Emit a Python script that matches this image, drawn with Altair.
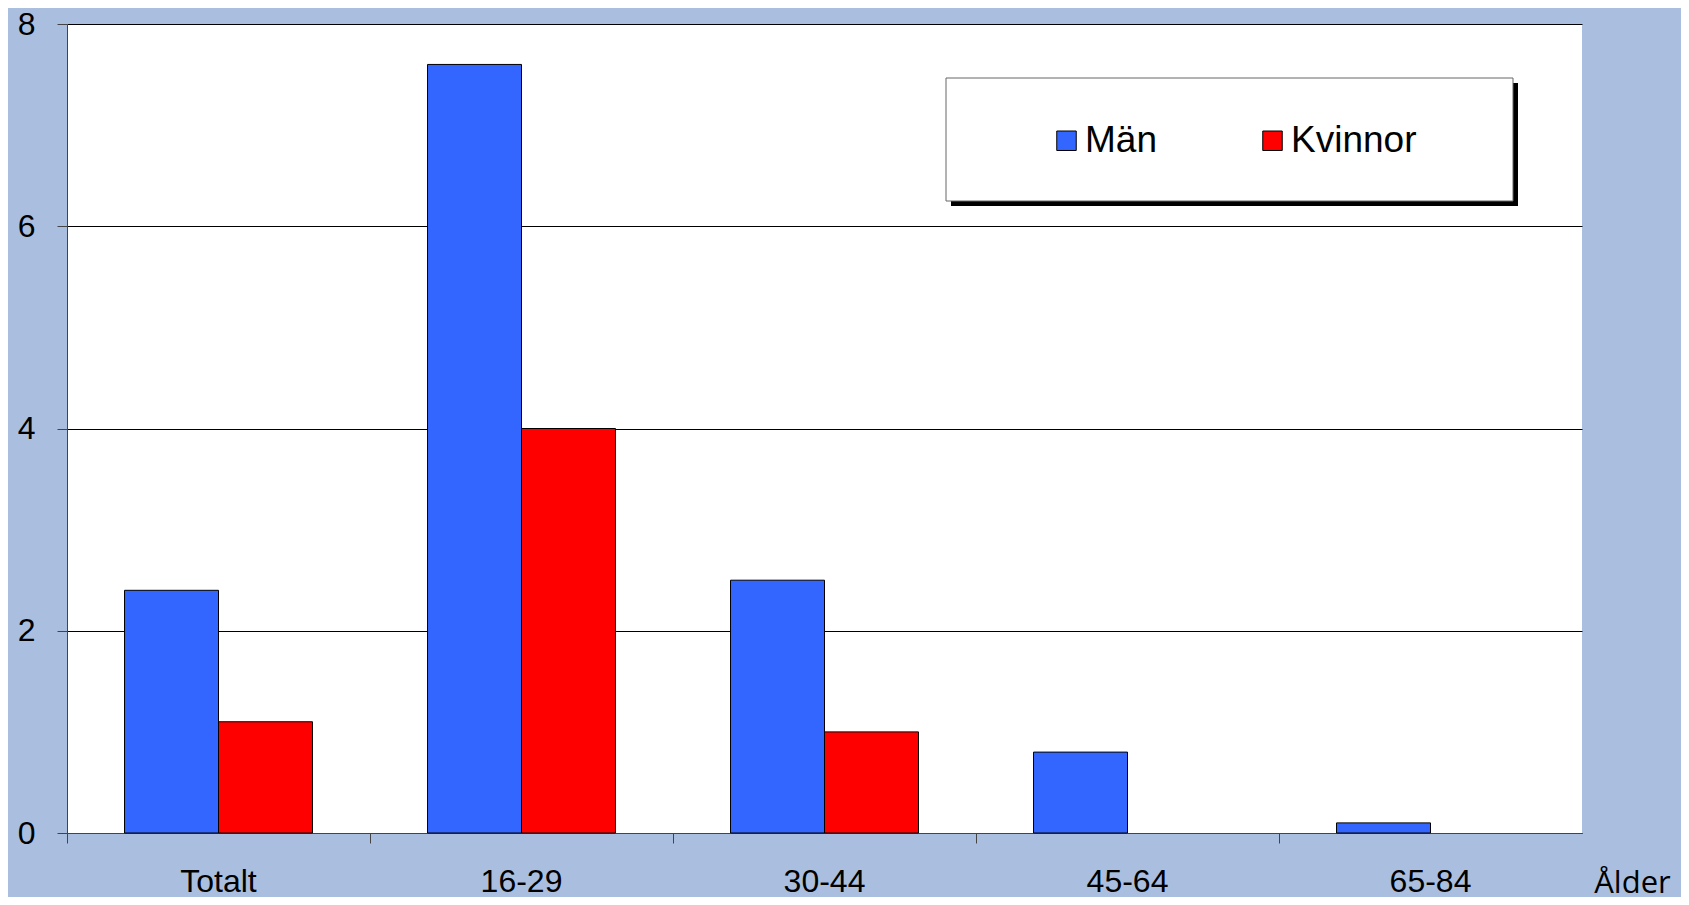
import altair as alt
import pandas as pd

categories = ["Totalt", "16-29", "30-44", "45-64", "65-84"]
series = ["Män", "Kvinnor"]
man_values = [2.4, 7.6, 2.5, 0.8, 0.1]
kvinnor_values = [1.1, 4.0, 1.0, 0.0, 0.0]
y_ticks = [0, 2, 4, 6, 8]
colors = ["#3366FF", "#FF0000"]

rows = []
for c, m, k in zip(categories, man_values, kvinnor_values):
    rows.append({"grupp": c, "kon": "Män", "varde": m})
    rows.append({"grupp": c, "kon": "Kvinnor", "varde": k})
df = pd.DataFrame(rows)

W, H = 1515, 809
BG = "#AABFDF"
FONT = "Liberation Sans"

bars = alt.Chart(df).transform_filter("datum.varde > 0").mark_bar(
    stroke="black", strokeWidth=1
).encode(
    x=alt.X(
        "grupp:N",
        sort=categories,
        scale=alt.Scale(paddingInner=0, paddingOuter=0),
        axis=alt.Axis(
            title="Ålder",
            titleX=1565,
            titleY=50,
            titleAlign="center",
            titleBaseline="middle",
            titleFont="Open Sans",
            titleFontSize=31,
            titleFontWeight="normal",
            titleColor="black",
            labelAngle=0,
            labelFont=FONT,
            labelFontSize=32,
            labelColor="black",
            labelPadding=23,
            bandPosition=0,
            tickSize=10,
            tickColor="#444444",
            domainColor="#444444",
            grid=False,
        ),
    ),
    xOffset=alt.XOffset(
        "kon:N", sort=series, scale=alt.Scale(paddingInner=0, paddingOuter=0.612)
    ),
    y=alt.Y(
        "varde:Q",
        scale=alt.Scale(domain=[0, 8], nice=False),
        axis=alt.Axis(
            title=None,
            values=y_ticks,
            format="d",
            labelFont=FONT,
            labelFontSize=32,
            labelColor="black",
            labelPadding=22,
            tickSize=10,
            tickColor="#444444",
            domainColor="#444444",
            grid=True,
            gridColor="#000000",
            gridWidth=1,
        ),
    ),
    color=alt.Color(
        "kon:N",
        sort=series,
        scale=alt.Scale(domain=series, range=colors),
        legend=alt.Legend(
            title=None,
            orient="none",
            legendX=981,
            legendY=98,
            direction="horizontal",
            symbolType="square",
            symbolSize=380,
            symbolStrokeColor="black",
            symbolStrokeWidth=1,
            symbolOpacity=1,
            labelFont=FONT,
            labelFontSize=37,
            labelColor="black",
            labelOffset=0,
            columnPadding=97,
            padding=0,
        ),
    ),
)

one = pd.DataFrame({"a": [0]})
shadow = alt.Chart(one).mark_rect(fill="black").encode(
    x=alt.value(884), x2=alt.value(1451), y=alt.value(59), y2=alt.value(182)
)
box = alt.Chart(one).mark_rect(fill="white", stroke="#666666", strokeWidth=1).encode(
    x=alt.value(879), x2=alt.value(1446), y=alt.value(54), y2=alt.value(177)
)

chart = (
    alt.layer(shadow, box, bars)
    .properties(
        width=W,
        height=H,
        background=BG,
        autosize=alt.AutoSizeParams(type="none"),
        padding={"left": 59, "top": 16, "right": 99, "bottom": 64},
    )
    .configure_view(stroke=None, fill="white")
)

chart.save("out.html", embed_options={"renderer": "svg", "actions": False})
